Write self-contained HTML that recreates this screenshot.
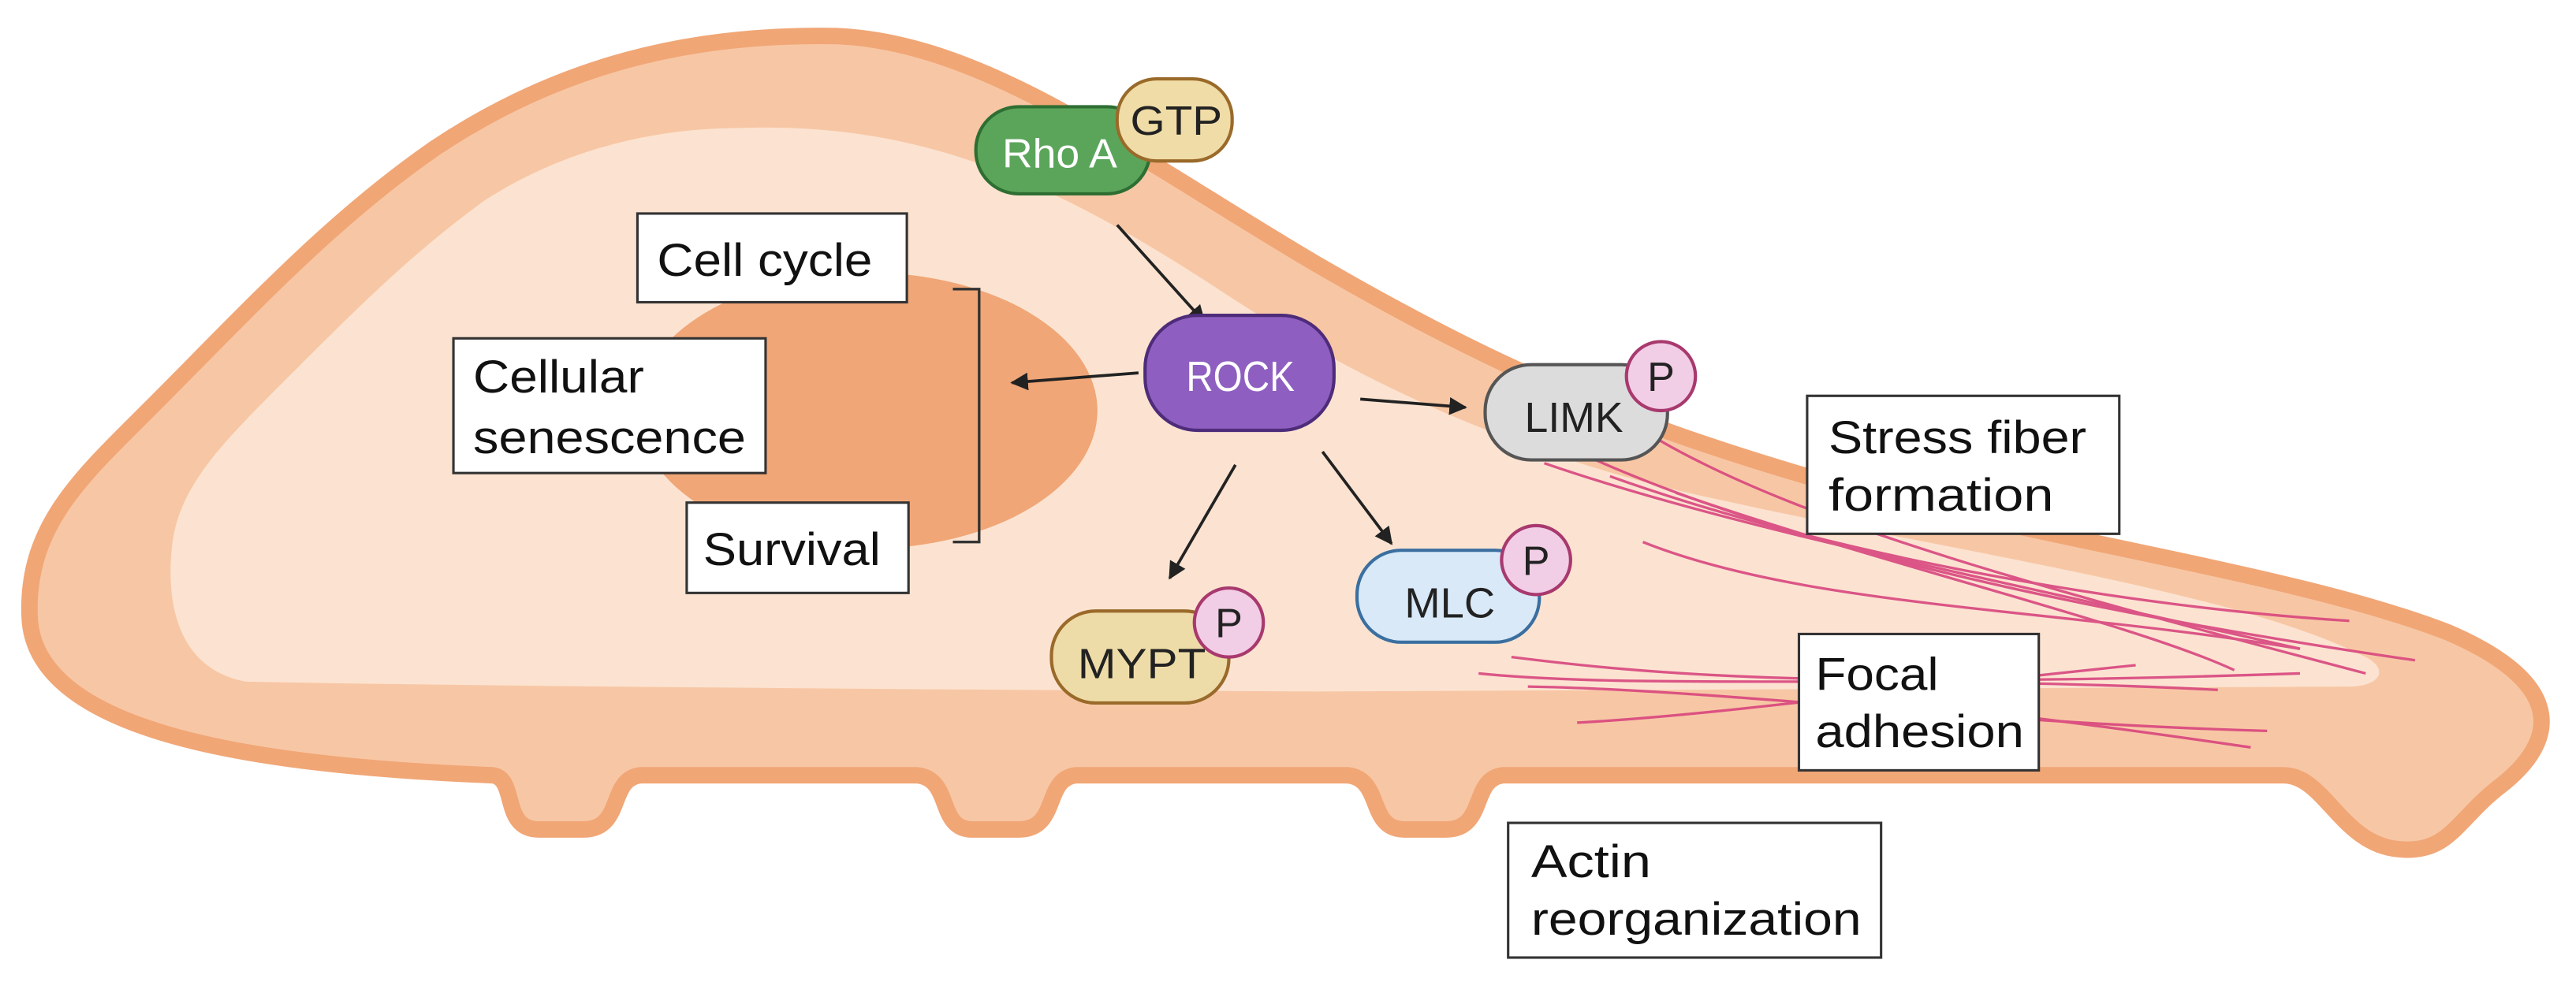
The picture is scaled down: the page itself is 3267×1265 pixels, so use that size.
<!DOCTYPE html>
<html><head><meta charset="utf-8"><style>
html,body{margin:0;padding:0;background:#fff;}
svg{display:block;}
text{font-family:"Liberation Sans",sans-serif;}
</style></head><body>
<svg width="3267" height="1265" viewBox="0 0 1568 607" preserveAspectRatio="none" xmlns="http://www.w3.org/2000/svg">
<defs>
<marker id="ah" viewBox="0 0 10 10" refX="9" refY="5" markerWidth="6" markerHeight="6" orient="auto"><path d="M0,0 L10,5 L0,10 z" fill="#222"/></marker>
</defs>
<path d="M300 472 C150 466 20 445 18 375 C16 320 50 290 90 250 C150 190 200 135 265 90 C340 40 420 20 510 22 C600 26 690 95 800 160 C900 218 980 255 1100 290 C1250 330 1400 350 1490 385 C1560 415 1560 450 1520 480 C1495 500 1490 520 1460 517 C1425 514 1415 472 1390 472 L915 472 C895 474 905 505 880 505 L855 505 C832 505 842 474 820 472 L655 472 C635 474 645 505 620 505 L592 505 C570 505 580 474 558 472 L390 472 C370 474 380 505 355 505 L328 505 C305 505 315 474 300 472 Z" fill="#F7C7A5" stroke="#F1A676" stroke-width="10"/>
<path d="M150 415 C110 408 100 370 105 330 C110 295 135 270 175 230 C220 185 250 155 295 122 C345 90 400 78 450 78 C560 74 640 110 740 175 C830 235 930 280 1050 305 C1200 338 1360 360 1440 400 C1455 408 1448 418 1430 418 L800 421 C600 420 300 418 150 415 Z" fill="#FCE3D1"/>
<ellipse cx="528" cy="250" rx="140" ry="84" fill="#F0A676"/>
<g stroke="#D8467E" stroke-width="1.6" fill="none" opacity="0.9">
<path d="M940 282 C1050 320 1200 350 1400 395"/>
<path d="M960 275 C1080 330 1250 370 1470 402"/>
<path d="M1010 268 C1100 320 1250 360 1440 410"/>
<path d="M980 290 C1120 340 1300 370 1430 378"/>
<path d="M1000 330 C1100 370 1250 370 1400 395"/>
<path d="M1020 300 C1150 345 1300 380 1360 408"/>
<path d="M920 400 C1000 410 1100 420 1400 410"/>
<path d="M900 410 C1000 420 1150 410 1350 420"/>
<path d="M930 418 C1050 420 1200 440 1380 445"/>
<path d="M960 440 C1050 435 1150 420 1300 405"/>
<path d="M1100 425 C1200 430 1300 445 1370 455"/>
</g>
<path d="M580 176 L596 176 L596 330 L580 330" fill="none" stroke="#333" stroke-width="1.6"/>
<g stroke="#222" stroke-width="1.8" marker-end="url(#ah)">
<line x1="680" y1="137" x2="733" y2="196"/>
<line x1="693" y1="227" x2="616" y2="233"/>
<line x1="828" y1="243" x2="892" y2="248"/>
<line x1="752" y1="283" x2="712" y2="352"/>
<line x1="805" y1="275" x2="847" y2="331"/>
</g>
<rect x="594" y="65" width="106" height="53" rx="26" fill="#5BA55B" stroke="#2F6E32" stroke-width="2"/>
<text x="610" y="102" font-size="25" fill="#fff" textLength="70" lengthAdjust="spacingAndGlyphs">Rho A</text>
<rect x="680" y="48" width="70" height="50" rx="24" fill="#F0DCA6" stroke="#9A6A2A" stroke-width="2"/>
<text x="688" y="82" font-size="25" fill="#222" textLength="56" lengthAdjust="spacingAndGlyphs">GTP</text>
<rect x="697" y="192" width="115" height="70" rx="32" fill="#8E5FC0" stroke="#4E2C7A" stroke-width="2"/>
<text x="722" y="238" font-size="26" fill="#fff" textLength="66" lengthAdjust="spacingAndGlyphs">ROCK</text>
<rect x="904" y="222" width="111" height="58" rx="28" fill="#DCDCDC" stroke="#555" stroke-width="2"/>
<text x="928" y="263" font-size="26" fill="#222" textLength="60" lengthAdjust="spacingAndGlyphs">LIMK</text>
<circle cx="1011" cy="229" r="21" fill="#F2CDE6" stroke="#A8396E" stroke-width="2"/>
<text x="1011" y="238" font-size="25" fill="#222" text-anchor="middle">P</text>
<rect x="826" y="335" width="111" height="56" rx="27" fill="#D9E9F8" stroke="#3A6FA0" stroke-width="2"/>
<text x="855" y="376" font-size="26" fill="#222" textLength="55" lengthAdjust="spacingAndGlyphs">MLC</text>
<circle cx="935" cy="341" r="21" fill="#F2CDE6" stroke="#A8396E" stroke-width="2"/>
<text x="935" y="350" font-size="25" fill="#222" text-anchor="middle">P</text>
<rect x="640" y="372" width="108" height="56" rx="27" fill="#EEDCA8" stroke="#9A6A2A" stroke-width="2"/>
<text x="656" y="413" font-size="26" fill="#222" textLength="78" lengthAdjust="spacingAndGlyphs">MYPT</text>
<circle cx="748" cy="379" r="21" fill="#F2CDE6" stroke="#A8396E" stroke-width="2"/>
<text x="748" y="388" font-size="25" fill="#222" text-anchor="middle">P</text>
<g fill="#fff" stroke="#333" stroke-width="1.5">
<rect x="388" y="130" width="164" height="54"/>
<rect x="276" y="206" width="190" height="82"/>
<rect x="418" y="306" width="135" height="55"/>
<rect x="1100" y="241" width="190" height="84"/>
<rect x="1095" y="386" width="146" height="83"/>
<rect x="918" y="501" width="227" height="82"/>
</g>
<g font-size="28" fill="#111">
<text x="400" y="168" textLength="131" lengthAdjust="spacingAndGlyphs">Cell cycle</text>
<text x="288" y="239" textLength="104" lengthAdjust="spacingAndGlyphs">Cellular</text>
<text x="288" y="276" textLength="166" lengthAdjust="spacingAndGlyphs">senescence</text>
<text x="428" y="344" textLength="108" lengthAdjust="spacingAndGlyphs">Survival</text>
<text x="1113" y="276" textLength="157" lengthAdjust="spacingAndGlyphs">Stress fiber</text>
<text x="1113" y="311" textLength="137" lengthAdjust="spacingAndGlyphs">formation</text>
<text x="1105" y="420" textLength="75" lengthAdjust="spacingAndGlyphs">Focal</text>
<text x="1105" y="455" textLength="127" lengthAdjust="spacingAndGlyphs">adhesion</text>
<text x="932" y="534" textLength="73" lengthAdjust="spacingAndGlyphs">Actin</text>
<text x="932" y="569" textLength="201" lengthAdjust="spacingAndGlyphs">reorganization</text>
</g>
</svg>
</body></html>
